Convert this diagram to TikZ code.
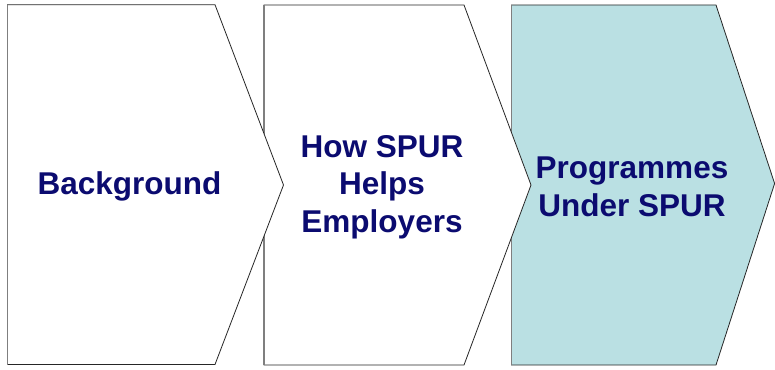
\documentclass[tikz,border=0pt]{standalone}
\usepackage{fontspec}
\setmainfont{Liberation Sans}
\definecolor{navy}{HTML}{0B0B70}
\definecolor{chevfill}{HTML}{BAE0E3}
\definecolor{edgegray}{HTML}{7F7F7F}
\begin{document}
\begin{tikzpicture}[x=1pt,y=-1pt,
  chev/.style={draw=black!85, line width=0.8pt, line join=miter},
  leftedge/.style={draw=edgegray, line width=1.4pt},
  label/.style={text=navy, font=\fontsize{31.5}{37.5}\selectfont\bfseries, align=center, inner sep=0pt}]
\useasboundingbox (0,0) rectangle (775,369);
% chevron 3
\path[chev, fill=chevfill] (511.5,5) -- (716,5) -- (774.6,183.5) -- (716,365) -- (511.5,365) -- cycle;
\draw[leftedge] (511.5,5) -- (511.5,365);
% chevron 2
\path[chev, fill=white] (264,5) -- (464,5) -- (531,185) -- (464,365) -- (264,365) -- cycle;
\draw[leftedge] (264,5) -- (264,365);
% chevron 1
\path[chev, fill=white] (7.5,4.7) -- (215,4.7) -- (283.5,185) -- (215,364.5) -- (7.5,364.5) -- cycle;
\draw[leftedge] (7.5,4.7) -- (7.5,364.5);
% labels
\node[label] (bg) at (129.5,186) {Background};
\node[label] (how) at (382,187) {How SPUR\\Helps\\Employers};
\node[label] (prog) at (632,187) {Programmes\\Under SPUR};
\end{tikzpicture}
\end{document}
